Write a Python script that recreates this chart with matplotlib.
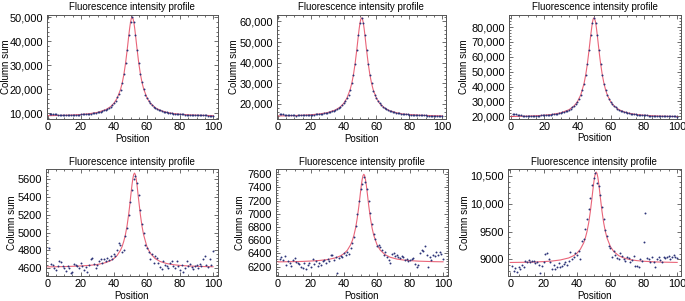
import numpy as np
import matplotlib
matplotlib.use("Agg")
from matplotlib import pyplot as plt
from matplotlib.ticker import FuncFormatter, MultipleLocator, AutoMinorLocator

plt.rcParams["font.family"] = ["Liberation Sans", "DejaVu Sans"]

# pixel positions along the profile
position = list(range(1, 101))

# measured column sums (top row: bright images, bottom row: dim images)
p1_counts = [9700, 9650, 9600, 9500, 9400, 9300, 9200, 9150, 9100, 9060,
             9070, 9100, 9120, 9150, 9180, 9220, 9250, 9290, 9330, 9380,
             9430, 9490, 9550, 9620, 9700, 9790, 9890, 10000, 10120, 10260,
             10430, 10620, 10840, 11090, 11390, 11740, 12170, 12680, 13320, 14110,
             15060, 16700, 17870, 19500, 22630, 26200, 30790, 36460, 42630, 47890,
             50000, 47890, 42630, 36460, 30790, 26200, 23000, 19940, 17500, 16300,
             15060, 14110, 13320, 12680, 12170, 11740, 11390, 11090, 10840, 10620,
             10430, 10260, 10120, 10000, 9890, 9790, 9700, 9620, 9550, 9490,
             9430, 9380, 9330, 9290, 9250, 9220, 9180, 9150, 9120, 9100,
             9070, 9050, 9030, 9010, 8990, 8970, 8960, 8940, 8930, 8910]
p2_counts = [15000, 14900, 14800, 14700, 14600, 14500, 14400, 14350, 14300, 14260,
             14250, 14280, 14310, 14340, 14380, 14420, 14460, 14500, 14550, 14610,
             14670, 14730, 14810, 14890, 14980, 15080, 15200, 15330, 15470, 15630,
             15830, 16040, 16300, 16590, 16940, 17350, 17850, 18440, 19180, 20100,
             21200, 22650, 24470, 26500, 30010, 34140, 39480, 46070, 53240, 59350,
             61800, 59350, 53240, 46070, 39480, 34140, 30010, 26200, 24470, 22650,
             21200, 20100, 19180, 18440, 17850, 17350, 16940, 16590, 16300, 16040,
             15830, 15630, 15470, 15330, 15200, 15080, 14980, 14890, 14810, 14730,
             14670, 14610, 14550, 14500, 14460, 14420, 14380, 14340, 14310, 14280,
             14250, 14220, 14200, 14180, 14160, 14130, 14120, 14100, 14080, 14070]
p3_counts = [21600, 21400, 21200, 21000, 20800, 20600, 20450, 20300, 20200, 20150,
             20100, 20140, 20190, 20240, 20300, 20350, 20420, 20490, 20570, 20650,
             20740, 20840, 20950, 21080, 21220, 21380, 21560, 21770, 21990, 22260,
             22560, 22920, 23330, 23820, 24390, 25080, 25910, 26940, 28210, 29750,
             31760, 34310, 37660, 42010, 47780, 55210, 64390, 74370, 82880, 86300,
             82880, 74370, 64390, 55210, 47780, 42010, 37660, 34310, 31760, 29750,
             28210, 26940, 25910, 25080, 24390, 23820, 23330, 22920, 22560, 22260,
             21990, 21770, 21560, 21380, 21220, 21080, 20950, 20840, 20740, 20650,
             20570, 20490, 20420, 20350, 20300, 20240, 20190, 20140, 20100, 20060,
             20030, 20000, 19960, 19940, 19900, 19880, 19860, 19840, 19810, 19790]
p4_counts = [4830, 4650, 4640, 4600, 4580, 4620, 4680, 4670, 4630, 4600,
             4570, 4620, 4600, 4550, 4560, 4650, 4640, 4620, 4600, 4660,
             4630, 4580, 4610, 4560, 4640, 4700, 4710, 4650, 4600, 4640,
             4680, 4700, 4660, 4700, 4680, 4720, 4690, 4740, 4700, 4760,
             4740, 4800, 4880, 4860, 4780, 4800, 4960, 5050, 5200, 5340,
             5480, 5600, 5640, 5560, 5420, 5250, 5100, 5000, 4860, 4830,
             4780, 4700, 4760, 4660, 4740, 4720, 4660, 4610, 4590, 4680,
             4640, 4620, 4600, 4660, 4680, 4630, 4600, 4680, 4620, 4580,
             4640, 4560, 4600, 4680, 4620, 4650, 4610, 4590, 4620, 4640,
             4600, 4650, 4620, 4700, 4740, 4640, 4610, 4700, 4640, 4790]
p5_counts = [6320, 6340, 6300, 6360, 6220, 6280, 6250, 6210, 6300, 6330,
             6270, 6260, 6240, 6200, 6180, 6250, 6160, 6220, 6260, 6200,
             6310, 6240, 6290, 6210, 6260, 6230, 6280, 6300, 6250, 6320,
             6290, 6380, 6370, 6300, 6340, 6100, 6330, 6360, 6340, 6400,
             6380, 6420, 6390, 6480, 6560, 6650, 6820, 7000, 7200, 7380,
             7460, 7560, 7480, 7380, 7200, 7020, 6840, 6700, 6620, 6520,
             6530, 6500, 6450, 6380, 6420, 6350, 6300, 6260, 6390, 6400,
             6360, 6380, 6350, 6330, 6360, 6340, 6300, 6320, 6290, 6300,
             6310, 6330, 6240, 6200, 6230, 6400, 6460, 6440, 6520, 6380,
             6200, 6350, 6300, 6380, 6360, 6420, 6380, 6430, 6390, 6320]
p6_counts = [8880, 8800, 8840, 8780, 8870, 8830, 8900, 8870, 8980, 8960,
             8990, 8950, 8970, 8980, 8930, 8960, 8900, 8760, 8880, 8960,
             9090, 9110, 9000, 8960, 8830, 8900, 8820, 8870, 8940, 8860,
             8880, 8920, 8950, 8900, 8980, 9140, 9000, 9050, 9120, 9080,
             9150, 9000, 9330, 9360, 9550, 9730, 9900, 10100, 10330, 10460,
             10560, 10380, 10320, 10150, 9950, 9730, 9520, 9420, 9250, 9200,
             9050, 9150, 9080, 9020, 9000, 9120, 9060, 9000, 8980, 9040,
             9020, 8960, 8990, 9060, 8890, 8880, 8860, 9000, 8980, 9320,
             9830, 9020, 9000, 8950, 9050, 8960, 8860, 9000, 9050, 8990,
             8950, 9050, 9020, 9050, 9060, 9000, 9050, 9080, 9040, 9020]

# fitted profile
fit_x = [0, 5, 10, 15, 20, 25, 30, 35, 38, 40, 42, 44, 45, 46, 47, 48, 49, 49.5,
         50, 50.5, 51, 51.5, 52, 52.5, 53, 53.5, 54, 55, 56, 57, 58, 60, 62, 65,
         68, 72, 76, 80, 85, 90, 95, 100]
p1_fit = [8890, 8960, 9050, 9180, 9380, 9700, 10260, 11390, 12680, 14110, 16300,
          19940, 22630, 26200, 30790, 36460, 42630, 45490, 47890, 49460, 50000,
          49460, 47890, 45490, 42630, 39530, 36460, 30790, 26200, 22630, 19940,
          16300, 14110, 12170, 11090, 10260, 9790, 9490, 9250, 9100, 8990, 8910]
p2_fit = [14040, 14120, 14220, 14380, 14610, 14980, 15630, 16940, 18440, 20100,
          22650, 26880, 30010, 34140, 39480, 46070, 53240, 56560, 59350, 61170,
          61800, 61170, 59350, 56560, 53240, 49630, 46070, 39480, 34140, 30010,
          26880, 22650, 20100, 17850, 16590, 15630, 14980, 14730, 14460, 14280,
          14160, 14070]
p3_fit = [19790, 19900, 20060, 20300, 20650, 21220, 22260, 24390, 26940, 29750,
          34310, 42010, 47780, 55210, 64390, 74370, 82880, 85430, 86300, 85430,
          82880, 79000, 74370, 69350, 64390, 59570, 55210, 47780, 42010, 37660,
          34310, 29750, 26940, 24390, 22920, 21770, 21080, 20650, 20300, 20060,
          19900, 19790]
p4_fit = [4616, 4617, 4619, 4622, 4626, 4632, 4642, 4663, 4685, 4709, 4744, 4802,
          4844, 4902, 4977, 5077, 5210, 5288, 5372, 5458, 5540, 5607, 5654, 5670,
          5654, 5607, 5540, 5372, 5210, 5077, 4977, 4844, 4770, 4709, 4676, 4653,
          4640, 4632, 4626, 4622, 4619, 4617]
p5_fit = [6273, 6275, 6277, 6280, 6286, 6294, 6308, 6335, 6366, 6399, 6449, 6532,
          6593, 6676, 6786, 6933, 7119, 7225, 7333, 7436, 7521, 7580, 7600, 7580,
          7521, 7436, 7333, 7119, 6933, 6786, 6676, 6532, 6449, 6380, 6343, 6316,
          6301, 6292, 6284, 6280, 6276, 6274]
p6_fit = [8945, 8947, 8950, 8954, 8961, 8971, 8990, 9026, 9067, 9112, 9182, 9296,
          9385, 9501, 9656, 9860, 10110, 10243, 10369, 10474, 10545, 10570, 10545,
          10474, 10369, 10243, 10110, 9860, 9656, 9501, 9385, 9231, 9143, 9067,
          9026, 8995, 8978, 8967, 8958, 8952, 8949, 8946]

counts = [p1_counts, p2_counts, p3_counts, p4_counts, p5_counts, p6_counts]
fits = [p1_fit, p2_fit, p3_fit, p4_fit, p5_fit, p6_fit]
y_steps = [10000, 10000, 10000, 200, 200, 500]


def fmt(v, pos):
    if abs(v) >= 10000:
        return "{:,}".format(int(round(v)))
    return str(int(round(v)))


def main():
    W, H = 685, 301
    fig = plt.figure(figsize=(W / 100, H / 100), dpi=100)
    # axes boxes in pixels: left, top, right, bottom
    boxes = [(46.5, 14.5, 218, 119), (276.5, 14.5, 446, 119), (508.5, 14.5, 681.5, 118.5),
             (45.7, 169, 218, 276), (275.7, 169, 448, 276), (507.7, 169, 680.5, 276)]
    ylabel_x = [6, 234, 464, 12, 240, 465]
    xlims = [(-0.9, 103), (-0.9, 102.4), (-1.5, 102.7), (-1.2, 103), (-1.4, 103), (-1.5, 102)]
    ylims = [(7500, 51100), (12550, 63400), (18450, 88500),
             (4513, 5716), (6059, 7680), (8702, 10625)]
    frame = "#555555"
    for i in range(6):
        l, t, r, b = boxes[i]
        ax = fig.add_axes([l / W, 1 - b / H, (r - l) / W, (b - t) / H])
        ax.plot(fit_x, fits[i], color="#e64a62", lw=0.8, alpha=0.85, zorder=2)
        ax.plot(position, counts[i], ls="none", marker="o", ms=1.4,
                mfc="#2c3378", mec="none", zorder=3)
        ax.set_xlim(*xlims[i])
        ax.set_ylim(*ylims[i])
        ax.xaxis.set_major_locator(MultipleLocator(20))
        ax.xaxis.set_minor_locator(AutoMinorLocator(4))
        ax.yaxis.set_major_locator(MultipleLocator(y_steps[i]))
        ax.yaxis.set_minor_locator(AutoMinorLocator(5))
        ax.yaxis.set_major_formatter(FuncFormatter(fmt))
        ax.tick_params(which="both", direction="in", top=True, right=True,
                       color=frame, width=0.6, labelsize=7.9, pad=2.5)
        ax.tick_params(which="major", length=3)
        ax.tick_params(which="minor", length=1.6)
        for s in ax.spines.values():
            s.set_color(frame)
            s.set_linewidth(0.7)
        ax.set_title("Fluorescence intensity profile", fontsize=7, pad=3)
        ax.set_xlabel("Position", fontsize=7, labelpad=1)
        ax.set_ylabel("Column sum", fontsize=7, va="center")
        ax.yaxis.set_label_coords((ylabel_x[i] - l) / (r - l), 0.5)
    fig.savefig("out.png", dpi=100)


if __name__ == "__main__":
    main()
